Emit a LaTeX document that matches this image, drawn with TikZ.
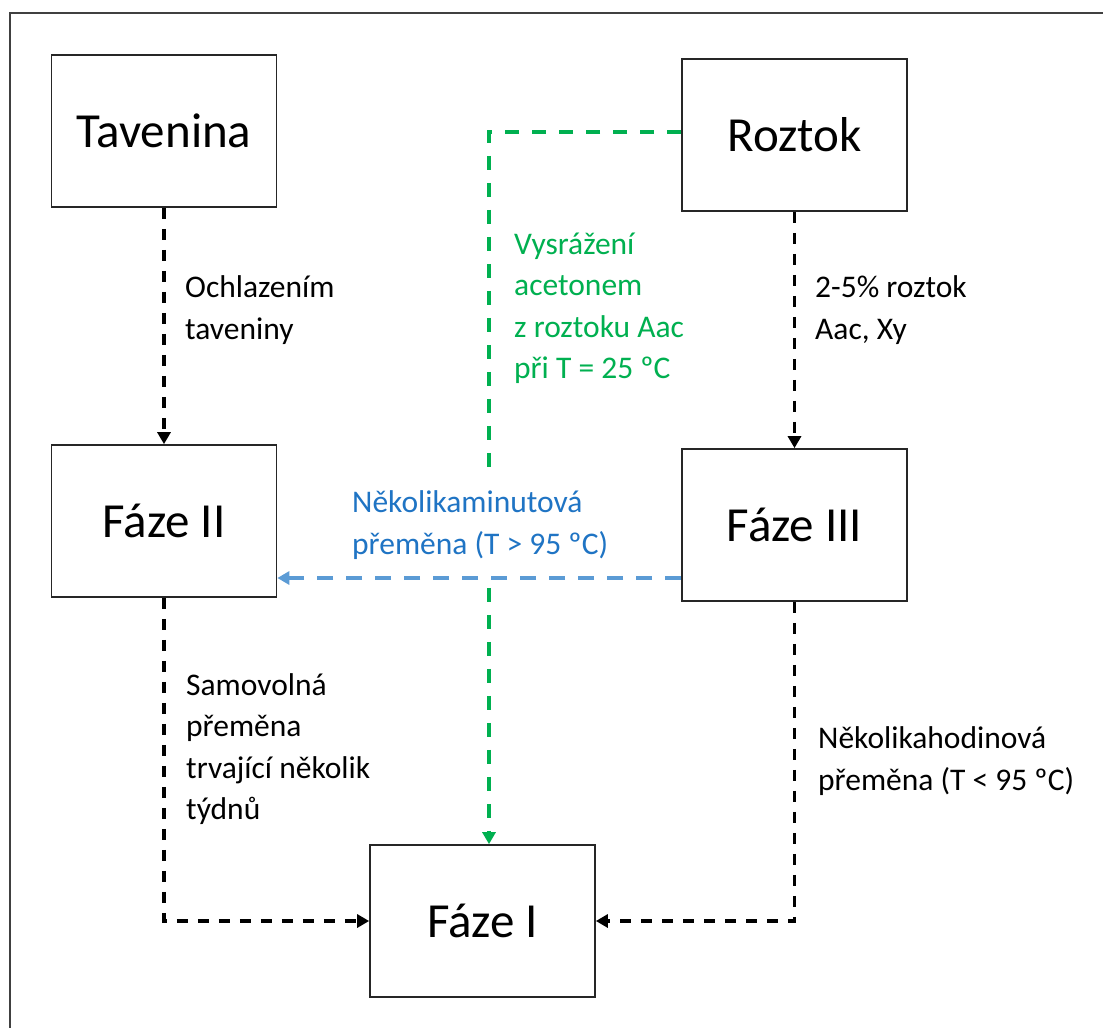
\documentclass[tikz,border=0pt]{standalone}
\usepackage{fontspec}
\setmainfont{Carlito}
\usetikzlibrary{arrows.meta}
\definecolor{grn}{HTML}{00B050}
\definecolor{bluline}{HTML}{5B9BD5}
\definecolor{blutext}{HTML}{1F74C4}
\definecolor{frm}{HTML}{404040}
\definecolor{edge}{HTML}{262626}
\tikzset{
  box/.style={draw=edge, line width=1.7pt, minimum width=225pt, minimum height=152pt, inner sep=0pt, font=\fontsize{49}{58}\selectfont},
  lbl/.style={anchor=west, align=left, inner sep=0pt, font=\fontsize{31.5}{41.5}\selectfont},
  tip/.style={-{Triangle[length=12pt,width=13pt]}},
  blkline/.style={tip, draw=black, line width=3.2pt, dash pattern=on 11pt off 10pt},
  grnline/.style={tip, draw=grn, color=grn, line width=3.2pt, dash pattern=on 14pt off 13pt},
  bluline/.style={tip, draw=bluline, color=bluline, line width=3.4pt, dash pattern=on 16pt off 13pt}
}
\begin{document}
\begin{tikzpicture}[x=1pt,y=-1pt]
\useasboundingbox (0,0) rectangle (1103,1028);
\fill[white] (0,0) rectangle (1103,1028);
\draw[frm, line width=2.5pt] (10,13) rectangle (1130,1050);

\node[box] (tav) at (164,131) {Tavenina};
\node[box] (roz) at (794.5,135) {Roztok};
\node[box] (f2) at (164,521) {Fáze II};
\node[box] (f3) at (794.5,525) {Fáze III};
\node[box] (f1) at (482.5,921) {Fáze I};

\coordinate (gc) at (489,132);
\coordinate (bl) at (600,578);

\draw[blkline] (tav.south) -- (f2.north);
\draw[blkline] (roz.south) -- (f3.north);
\draw[grnline] (roz.west |- gc) -- (gc) -- (gc |- f1.north);
\node[lbl, fill=white, minimum height=105pt, text=blutext] (blab) at (352,525) {Několikaminutová\\přeměna (T > 95 ºC)};
\draw[bluline] (f3.west |- bl) -- (f2.east |- bl);
\draw[blkline] (f2.south) -- (f2.south |- f1.west) -- (f1.west);
\draw[blkline] (f3.south) -- (f3.south |- f1.east) -- (f1.east);

\node[lbl] (l1) at (185,310) {Ochlazením\\taveniny};
\node[lbl] (l2) at (815,310) {2-5\% roztok\\Aac, Xy};
\node[lbl, text=grn] (l3) at (514,308.5) {Vysrážení\\acetonem\\z roztoku Aac\\při T = 25 ºC};
\node[lbl] (l4) at (186,749) {Samovolná\\přeměna\\trvající několik\\týdnů};
\node[lbl] (l5) at (818,761) {Několikahodinová\\přeměna (T < 95 ºC)};
\end{tikzpicture}
\end{document}
